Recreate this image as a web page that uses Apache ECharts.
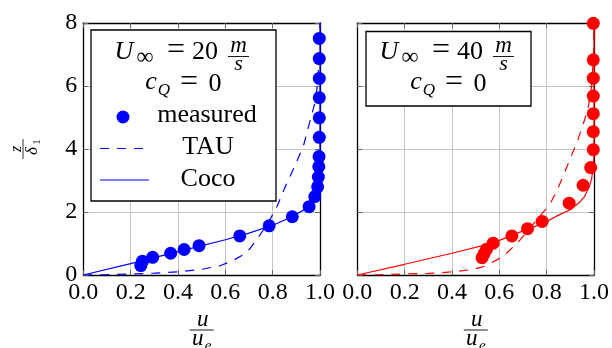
<!DOCTYPE html>
<html>
<head>
<meta charset="utf-8">
<script src="https://cdn.jsdelivr.net/npm/echarts@6/dist/echarts.min.js"></script>
<style>
  html, body { margin: 0; padding: 0; background: #fff; }
  #chart { width: 612px; height: 348px; }
</style>
</head>
<body>
<div id="chart"></div>
<script>
// Velocity profiles u/u_e over z/delta_1, two free-stream speeds.
const xTicks = [0, 0.2, 0.4, 0.6, 0.8, 1.0];
const yTicks = [0, 2, 4, 6, 8];

// U = 20 m/s
const u20Measured = [0.243, 0.250, 0.293, 0.369, 0.426, 0.489, 0.661, 0.785, 0.883, 0.954, 0.978, 0.990, 0.993, 0.995, 0.996, 0.997, 0.997, 0.997, 0.997, 0.997, 0.997];
const z20Measured = [0.30, 0.44, 0.56, 0.69, 0.81, 0.93, 1.24, 1.56, 1.85, 2.17, 2.49, 2.80, 3.11, 3.44, 3.76, 4.37, 4.99, 5.63, 6.24, 6.87, 7.51];
const u20Tau = [0, 0.1, 0.2, 0.3, 0.4, 0.5, 0.58, 0.63, 0.67, 0.70, 0.73, 0.76, 0.79, 0.82, 0.85, 0.89, 0.93, 0.96, 0.98, 0.99, 0.997, 1.0];
const z20Tau = [0, 0.01, 0.03, 0.06, 0.10, 0.18, 0.30, 0.45, 0.62, 0.80, 1.10, 1.42, 1.78, 2.20, 2.75, 3.40, 4.10, 4.95, 5.50, 6.10, 7.00, 8.0];
const u20Coco = [0, 0.2, 0.4, 0.6, 0.7, 0.8, 0.88, 0.93, 0.96, 0.98, 0.99, 0.997, 1.0, 1.0];
const z20Coco = [0, 0.36, 0.74, 1.12, 1.33, 1.58, 1.84, 2.06, 2.28, 2.50, 2.70, 3.00, 3.40, 8.0];

// U = 40 m/s
const u40Measured = [0.527, 0.535, 0.546, 0.574, 0.653, 0.719, 0.781, 0.895, 0.954, 0.986, 0.997, 0.997, 0.997, 0.997, 0.997, 0.997, 0.997];
const z40Measured = [0.55, 0.67, 0.82, 1.01, 1.24, 1.47, 1.70, 2.28, 2.85, 3.41, 3.98, 4.55, 5.12, 5.68, 6.25, 6.83, 7.99];
const u40Tau = [0, 0.1, 0.2, 0.3, 0.35, 0.42, 0.49, 0.53, 0.56, 0.60, 0.63, 0.66, 0.69, 0.72, 0.75, 0.78, 0.81, 0.84, 0.87, 0.90, 0.93, 0.96, 0.975, 0.99, 0.998, 1.0];
const z40Tau = [0, 0.01, 0.03, 0.05, 0.07, 0.11, 0.18, 0.26, 0.37, 0.52, 0.69, 0.90, 1.13, 1.40, 1.68, 1.95, 2.20, 2.62, 3.15, 3.70, 4.25, 4.92, 5.30, 6.00, 7.00, 8.0];
const u40Coco = [0, 0.2, 0.4, 0.55, 0.6, 0.7, 0.77, 0.81, 0.85, 0.9, 0.94, 0.96, 0.98, 0.99, 0.997, 1.0, 1.0];
const z40Coco = [0, 0.34, 0.69, 0.97, 1.10, 1.40, 1.60, 1.74, 1.90, 2.07, 2.32, 2.49, 2.80, 3.05, 3.44, 3.80, 8.0];

const zip = (a, b) => a.map((v, i) => [v, b[i]]);

const FONT = '"Liberation Serif", "Times New Roman", serif';
const TICK_SIZE = 24;
const BOX_SIZE = 26;
const BLUE = '#0000ff';
const RED = '#ff0000';

const gridBoxes = [
  { left: 83.3, top: 23, width: 236.7, height: 252 },
  { left: 357.3, top: 23, width: 237, height: 252 }
];

function xAxes(gi) {
  return [
    {
      type: 'value', gridIndex: gi, min: 0, max: 1, interval: 0.2, position: 'bottom',
      axisLine: { show: true, onZero: false, lineStyle: { color: '#000', width: 1.3 } },
      axisTick: { show: true, inside: true, length: 5, lineStyle: { color: '#666' } },
      axisLabel: { color: '#000', fontFamily: FONT, fontSize: TICK_SIZE, margin: 6,
        formatter: v => v.toFixed(1), showMinLabel: true, showMaxLabel: true },
      splitLine: { show: true, lineStyle: { color: '#c4c4c4', width: 1 } }
    },
    {
      type: 'value', gridIndex: gi, min: 0, max: 1, interval: 0.2, position: 'top',
      axisLine: { show: true, onZero: false, lineStyle: { color: '#000', width: 1.3 } },
      axisTick: { show: true, inside: true, length: 5, lineStyle: { color: '#666' } },
      axisLabel: { show: false }, splitLine: { show: false }
    }
  ];
}

function yAxes(gi, labels) {
  return [
    {
      type: 'value', gridIndex: gi, min: 0, max: 8, interval: 2, position: 'left',
      axisLine: { show: true, onZero: false, lineStyle: { color: '#000', width: 1.3 } },
      axisTick: { show: true, inside: true, length: 5, lineStyle: { color: '#666' } },
      axisLabel: { show: labels, color: '#000', fontFamily: FONT, fontSize: TICK_SIZE, margin: 6,
        formatter: v => String(v) },
      splitLine: { show: true, lineStyle: { color: '#c4c4c4', width: 1 } }
    },
    {
      type: 'value', gridIndex: gi, min: 0, max: 8, interval: 2, position: 'right',
      axisLine: { show: true, onZero: false, lineStyle: { color: '#000', width: 1.3 } },
      axisTick: { show: true, inside: true, length: 5, lineStyle: { color: '#666' } },
      axisLabel: { show: false }, splitLine: { show: false }
    }
  ];
}

function profileSeries(axisIdx, color, measured, tau, coco) {
  return [
    { type: 'line', xAxisIndex: axisIdx, yAxisIndex: axisIdx, data: tau, showSymbol: false, symbol: 'none',
      lineStyle: { color, width: 1.2, type: [9, 8] }, z: 3, animation: false },
    { type: 'line', xAxisIndex: axisIdx, yAxisIndex: axisIdx, data: coco, showSymbol: false, symbol: 'none',
      lineStyle: { color, width: 1.2 }, z: 3, animation: false },
    { type: 'scatter', xAxisIndex: axisIdx, yAxisIndex: axisIdx, data: measured, symbol: 'circle', symbolSize: 13,
      itemStyle: { color, opacity: 1 }, clip: false, z: 5, animation: false }
  ];
}

// text helpers for the drawn annotations
function txt(x, y, s, size, opts) {
  opts = opts || {};
  return {
    type: 'text', x, y, z: 100,
    style: {
      text: s, fill: opts.fill || '#000', fontFamily: FONT, fontSize: size,
      fontStyle: opts.italic ? 'italic' : 'normal',
      align: opts.align || 'center', verticalAlign: 'middle'
    }
  };
}
function hline(x1, x2, y, color, width, dash) {
  return { type: 'line', z: 100, shape: { x1, y1: y, x2, y2: y },
    style: { stroke: color, lineWidth: width, lineDash: dash || null } };
}

// boxed annotation: U_inf = N m/s, c_Q = 0
function infoBox(dx, speed) {
  return [
    txt(124 + dx, 52, 'U', BOX_SIZE, { italic: true }),
    txt(145 + dx, 58, '∞', 24),
    txt(176 + dx, 51, '=', 32),
    txt(205 + dx, 52, speed, BOX_SIZE),
    txt(238.5 + dx, 45.5, 'm', 23, { italic: true }),
    hline(228 + dx, 249 + dx, 56.5, '#000', 0.9),
    txt(238.5 + dx, 64.5, 's', 22, { italic: true }),
    txt(151 + dx, 82, 'c', BOX_SIZE, { italic: true }),
    txt(164 + dx, 91, 'Q', 17, { italic: true }),
    txt(189 + dx, 83, '=', 32),
    txt(215 + dx, 84, '0', BOX_SIZE)
  ];
}

// fraction u / u_e under each panel
function xTitle(cx) {
  return [
    txt(cx + 1, 320, 'u', 23, { italic: true }),
    hline(cx - 12, cx + 12, 330, '#000', 0.9),
    txt(cx - 4, 339, 'u', 23, { italic: true }),
    txt(cx + 6.5, 346, 'e', 15, { italic: true })
  ];
}

const graphics = [
  // left legend frame
  { type: 'rect', z: 90, shape: { x: 91, y: 30, width: 185, height: 171 },
    style: { fill: '#fff', stroke: '#000', lineWidth: 1.3 } },
  ...infoBox(0, '20'),
  { type: 'circle', z: 100, shape: { cx: 123, cy: 117, r: 6.5 }, style: { fill: BLUE } },
  txt(207, 115, 'measured', BOX_SIZE),
  hline(100, 146, 148.5, BLUE, 1.2, [9, 8]),
  txt(208, 147, 'TAU', BOX_SIZE),
  hline(100, 149, 180, BLUE, 1.2),
  txt(208, 179, 'Coco', BOX_SIZE),
  // right annotation frame
  { type: 'rect', z: 90, shape: { x: 366, y: 31.5, width: 165, height: 74.5 },
    style: { fill: '#fff', stroke: '#000', lineWidth: 1.3 } },
  ...infoBox(265, '40'),
  ...xTitle(201.7),
  ...xTitle(475.8),
  // rotated y title z / delta_1
  { type: 'group', x: 23, y: 149, rotation: Math.PI / 2, z: 100,
    children: [
      { type: 'text', x: 0, y: -6, style: { text: 'z', fontFamily: FONT, fontSize: 16, fontStyle: 'italic', fill: '#000', align: 'center', verticalAlign: 'middle' } },
      { type: 'line', shape: { x1: -10, y1: 0, x2: 10, y2: 0 }, style: { stroke: '#000', lineWidth: 0.8 } },
      { type: 'text', x: -2, y: 10, style: { text: 'δ', fontFamily: FONT, fontSize: 17, fontStyle: 'italic', fill: '#000', align: 'center', verticalAlign: 'middle' } },
      { type: 'text', x: 7, y: 14, style: { text: '1', fontFamily: FONT, fontSize: 11, fill: '#000', align: 'center', verticalAlign: 'middle' } }
    ] }
];

const chart = echarts.init(document.getElementById('chart'), null, { renderer: 'canvas' });
chart.setOption({
  animation: false,
  backgroundColor: '#fff',
  grid: gridBoxes.map(g => Object.assign({ containLabel: false }, g)),
  xAxis: [...xAxes(0), ...xAxes(1)],
  yAxis: [...yAxes(0, true), ...yAxes(1, false)],
  series: [
    ...profileSeries(0, BLUE, zip(u20Measured, z20Measured), zip(u20Tau, z20Tau), zip(u20Coco, z20Coco)),
    ...profileSeries(2, RED, zip(u40Measured, z40Measured), zip(u40Tau, z40Tau), zip(u40Coco, z40Coco))
  ],
  graphic: graphics
});
</script>
</body>
</html>
